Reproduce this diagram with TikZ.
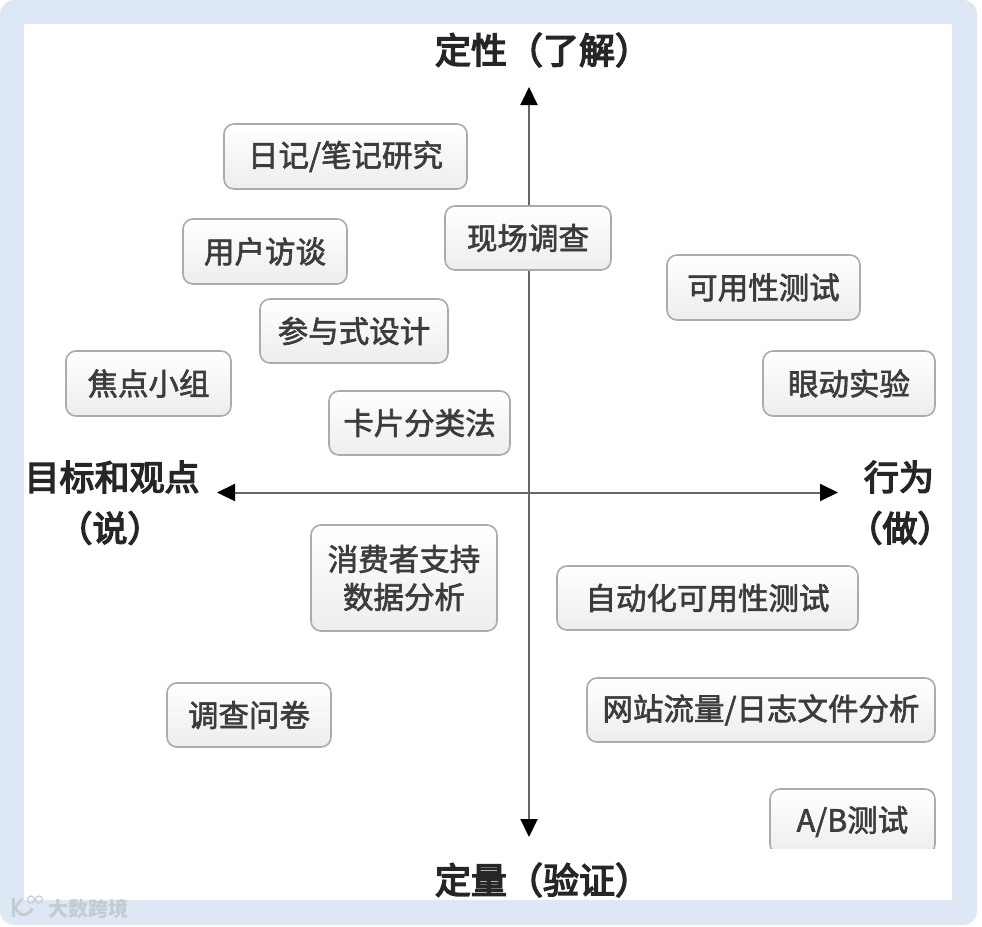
\documentclass[tikz,border=0pt]{standalone}
\usepackage{fontspec}
\setmainfont{Noto Sans CJK SC}
\newfontfamily\boxfont[FakeBold=2]{Noto Sans CJK SC}
\newfontfamily\polefont[FakeBold=4]{Noto Sans CJK SC}
\usetikzlibrary{arrows.meta}
\definecolor{panelblue}{HTML}{DEE8F4}
\definecolor{boxline}{HTML}{ABABAB}
\definecolor{boxtext}{HTML}{3C3C3C}
\definecolor{marktext}{HTML}{C4CCD3}
\tikzstyle{method}=[draw=boxline, line width=1.6pt, rounded corners=10pt, top color=white, bottom color=black!7, text=boxtext, font=\boxfont\fontsize{30.5}{38}\selectfont, align=center, inner sep=0pt]
\tikzstyle{pole}=[text=black!85, font=\polefont\fontsize{35}{50}\selectfont, align=center, inner sep=0pt]
\tikzstyle{axis}=[line width=2pt, black!60, {Stealth[length=18pt,width=17pt,inset=0pt,black]}-{Stealth[length=18pt,width=17pt,inset=0pt,black]}]

\begin{document}
\begin{tikzpicture}[x=1pt, y=-1pt]
    \useasboundingbox (0,0) rectangle (982,926);
% Panel
    \fill[white] (0,0) rectangle (982,926);
    \fill[panelblue, rounded corners=14pt] (0,0) rectangle (977,925);
    \fill[white] (24,24) rectangle (952,900);
% Axes
    \coordinate (top) at (529,87);
    \coordinate (bottom) at (529,837);
    \coordinate (left) at (217,492.5);
    \coordinate (right) at (838,492.5);
    \draw[axis] (top) -- (bottom);
    \draw[axis] (left) -- (right);
% Methods
    \node[method, minimum width=243pt, minimum height=65pt] (diary) at (345.5,156.5) {日记/笔记研究};
    \node[method, minimum width=164pt, minimum height=65pt] (interview) at (265,251.5) {用户访谈};
    \node[method, minimum width=166pt, minimum height=64pt] (field) at (528,238) {现场调查};
    \node[method, minimum width=193pt, minimum height=65pt] (usability) at (763.5,287.5) {可用性测试};
    \node[method, minimum width=188pt, minimum height=64pt] (participatory) at (354,331) {参与式设计};
    \node[method, minimum width=165pt, minimum height=65pt] (focus) at (148.5,383.5) {焦点小组};
    \node[method, minimum width=172pt, minimum height=65pt] (eyetrack) at (849,383.5) {眼动实验};
    \node[method, minimum width=181pt, minimum height=64pt] (cardsort) at (419.5,423) {卡片分类法};
    \node[method, minimum width=186pt, minimum height=106pt] (support) at (404,578) {消费者支持\\数据分析};
    \node[method, minimum width=301pt, minimum height=64pt] (autotest) at (707.5,598) {自动化可用性测试};
    \node[method, minimum width=164pt, minimum height=64pt] (survey) at (249,715) {调查问卷};
    \node[method, minimum width=348pt, minimum height=64pt] (weblog) at (761,710) {网站流量/日志文件分析};
    \node[method, minimum width=165pt, minimum height=65pt] (abtest) at (852.5,821.5) {A/B测试};
% Bottom strip hides the cut box
    \fill[white] (640,849) rectangle (952,900);
% Poles
    \node[pole, font=\polefont\fontsize{36}{50}\selectfont] (qual) at (543,50) {定性（了解）};
    \node[pole, font=\polefont\fontsize{36}{50}\selectfont] (quant) at (543,880) {定量（验证）};
    \node[pole] (say) at (112,477) {目标和观点};
    \node[pole] (saynote) at (110,528) {（说）};
    \node[pole] (do) at (899,477) {行为};
    \node[pole] (donote) at (900,528) {（做）};
% Watermark
    \node[text=marktext, font=\fontsize{20}{24}\bfseries\selectfont, inner sep=0pt] (mark) at (88,909) {大数跨境};
    \draw[marktext, line width=3pt] (13,898) -- (13,917);
    \draw[marktext, line width=2.5pt] (22,899) -- (15,907) -- (18,912);
    \draw[marktext, line width=3pt] (18,912) .. controls (22,917) and (30,915) .. (32,908);
    \draw[marktext, line width=1.2pt] (31,899.5) circle (3.5);
    \draw[marktext, line width=1.2pt] (39,899.5) circle (3.5);
\end{tikzpicture}
\end{document}
